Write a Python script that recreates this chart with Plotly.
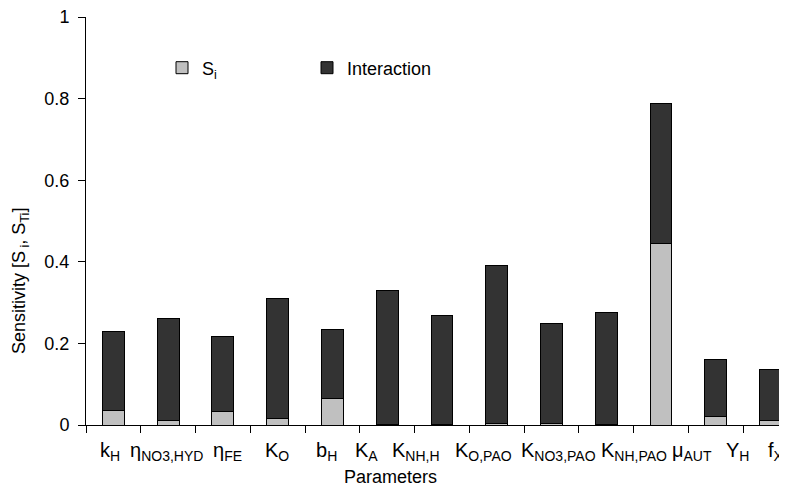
import plotly.graph_objects as go

# ---- data ----
parameters = ["k_H", "eta_NO3,HYD", "eta_FE", "K_O", "b_H", "K_A", "K_NH,H",
              "K_O,PAO", "K_NO3,PAO", "K_NH,PAO", "mu_AUT", "Y_H", "f_XI"]
param_labels = ["k<sub>H</sub>", "η<sub>NO3,HYD</sub>", "η<sub>FE</sub>", "K<sub>O</sub>",
                "b<sub>H</sub>", "K<sub>A</sub>", "K<sub>NH,H</sub>", "K<sub>O,PAO</sub>",
                "K<sub>NO3,PAO</sub>", "K<sub>NH,PAO</sub>", "μ<sub>AUT</sub>",
                "Y<sub>H</sub>", "f<sub>XI</sub>"]
S_i = [0.035, 0.010, 0.034, 0.016, 0.066, 0.002, 0.002, 0.004, 0.003, 0.002, 0.446, 0.021, 0.012]
S_Ti = [0.229, 0.261, 0.216, 0.309, 0.233, 0.329, 0.269, 0.391, 0.248, 0.275, 0.787, 0.161, 0.136]
interaction = [t - s for t, s in zip(S_Ti, S_i)]
y_ticks = [0, 0.2, 0.4, 0.6, 0.8, 1]
y_tick_text = ["0", "0.2", "0.4", "0.6", "0.8", "1"]

FONT = "Arial, 'Liberation Sans', sans-serif"
FS = 18
PH = 408.0   # plot height in px
PW = 701.0   # plot width in px
L = 86       # plot left edge in page px
T = 17       # plot top edge in page px
OFF = 8      # page body margin

fig = go.Figure()
fig.add_trace(go.Bar(x=parameters, y=S_i, name="S<sub>i</sub>", width=0.4,
                     marker=dict(color="#C0C0C0", line=dict(color="#000000", width=1))))
fig.add_trace(go.Bar(x=parameters, y=interaction, name="Interaction", width=0.4,
                     marker=dict(color="#333333", line=dict(color="#000000", width=1))))

# category labels (placed slightly off-centre as in the original)
label_shift = [-3, -2, 5, -1, -6, -21, -26, -13, 7, 28, 31, 22, 7]
for p, lab, sh in zip(parameters, param_labels, label_shift):
    fig.add_annotation(x=p, xref="x", y=-12 / PH, yref="paper", text=lab,
                       showarrow=False, xanchor="center", yanchor="top", xshift=sh,
                       font=dict(family=FONT, size=FS + 2, color="#000000"))

fig.add_annotation(text="Parameters", x=(390 - L) / PW, xref="paper",
                   y=-(477 - 425) / PH, yref="paper", showarrow=False,
                   xanchor="center", yanchor="middle",
                   font=dict(family=FONT, size=FS, color="#000000"))
fig.add_annotation(text="Sensitivity [S<sub> i</sub>, S<sub>Ti</sub>]", x=(20 - L) / PW,
                   xref="paper", y=1 - (281 - T) / PH, yref="paper", showarrow=False,
                   textangle=-90, xanchor="center", yanchor="middle",
                   font=dict(family=FONT, size=FS, color="#000000"))

fig.update_layout(
    width=787 - OFF, height=492 - OFF,
    margin=dict(l=L - OFF, r=0, t=T - OFF, b=492 - 425, autoexpand=False),
    barmode="stack",
    plot_bgcolor="white", paper_bgcolor="white",
    font=dict(family=FONT, size=FS, color="#000000"),
    showlegend=True,
    legend=dict(orientation="h", xref="paper", yref="paper",
                x=(162 - L) / PW, y=1 - (68 - T) / PH, xanchor="left", yanchor="middle",
                traceorder="normal", entrywidth=100, entrywidthmode="pixels",
                font=dict(family=FONT, size=FS, color="#000000"),
                bgcolor="rgba(0,0,0,0)"),
    xaxis=dict(range=[-0.5, 12.3], showticklabels=False, ticks="outside",
               tickson="boundaries", ticklen=7, tickcolor="#000000",
               showline=True, linecolor="#000000", linewidth=1, showgrid=False,
               zeroline=False, automargin=False),
    yaxis=dict(range=[0, 1], tickvals=y_ticks, ticktext=y_tick_text, ticks="outside",
               ticklen=7, tickcolor="#000000", showline=True, linecolor="#000000",
               linewidth=1, showgrid=False, zeroline=False, automargin=False,
               ticklabelstandoff=5, ticklabeloverflow="allow",
               tickfont=dict(family=FONT, size=FS, color="#000000")),
)

fig.write_html("out.html")
